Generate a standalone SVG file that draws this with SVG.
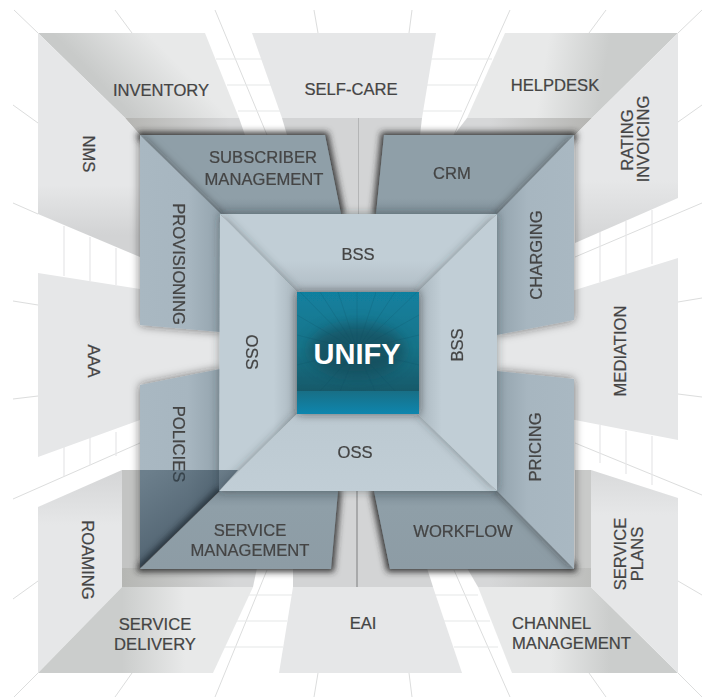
<svg xmlns="http://www.w3.org/2000/svg" width="708" height="697" viewBox="0 0 708 697">
<style>
text{font-family:"Liberation Sans",Arial,sans-serif;font-size:16.6px;fill:#444;text-anchor:middle;stroke:#444;stroke-width:.22}
.wall{fill:#e6e7e8}
.band{fill:#d3d4d5}
.grid{stroke:#dcdddd;stroke-width:1;fill:none}
.inner{stroke:#e6e7e8;stroke-width:1.2;fill:none}
.side{fill:url(#side)}
.back{fill:url(#back)}
.ray{stroke:#0b4a5e;stroke-width:.6;opacity:.3}
.sh{filter:url(#shadow)}
.ss{filter:url(#shadowS)}
.sc{filter:url(#shadowC)}
</style>
<defs>
<filter id="shadow" x="-20%" y="-20%" width="140%" height="140%"><feMorphology in="SourceAlpha" operator="dilate" radius="2.500" result="d"/><feGaussianBlur in="d" stdDeviation="3" result="b"/><feFlood flood-color="#2a2a2a" flood-opacity=".9"/><feComposite in2="b" operator="in"/><feMerge><feMergeNode/><feMergeNode in="SourceGraphic"/></feMerge></filter>
<filter id="shadowS" x="-20%" y="-20%" width="140%" height="140%"><feDropShadow dx="0" dy="0" stdDeviation="5" flood-color="#1c1c1c" flood-opacity=".6"/></filter>
<filter id="shadowC" x="-20%" y="-20%" width="140%" height="140%"><feDropShadow dx="0" dy="0" stdDeviation="5" flood-color="#2c3135" flood-opacity=".45"/></filter>
<filter id="soft" x="-30%" y="-30%" width="160%" height="160%"><feGaussianBlur stdDeviation="7"/></filter>
<clipPath id="boxclip"><rect x="297" y="292" width="122" height="122"/></clipPath>
<linearGradient id="side" x1="0" y1="0" x2="1" y2="0"><stop offset="0" stop-color="#a9b8c2"/><stop offset=".6" stop-color="#a7b6c0"/><stop offset="1" stop-color="#93a3ad"/></linearGradient>
<linearGradient id="sideR" x1="1" y1="0" x2="0" y2="0"><stop offset="0" stop-color="#a9b8c2"/><stop offset=".6" stop-color="#a7b6c0"/><stop offset="1" stop-color="#93a3ad"/></linearGradient>
<linearGradient id="back" x1="0" y1="0" x2="0" y2="1"><stop offset="0" stop-color="#8f9fa8"/><stop offset=".8" stop-color="#8f9fa8"/><stop offset="1" stop-color="#7e8e98"/></linearGradient>
<linearGradient id="backS" x1="0" y1="1" x2="0" y2="0"><stop offset="0" stop-color="#8d9ca5"/><stop offset=".8" stop-color="#8f9fa8"/><stop offset="1" stop-color="#7e8e98"/></linearGradient>
<linearGradient id="wInv" gradientUnits="userSpaceOnUse" x1="105" y1="88" x2="155" y2="40"><stop offset="0" stop-color="#c8cac9"/><stop offset="1" stop-color="#e8e9e9"/></linearGradient>
<linearGradient id="wHelp" gradientUnits="userSpaceOnUse" x1="605" y1="70" x2="545" y2="60"><stop offset="0" stop-color="#cbcdcc"/><stop offset="1" stop-color="#e8e9e9"/></linearGradient>
<linearGradient id="wDel" gradientUnits="userSpaceOnUse" x1="122" y1="630" x2="185" y2="630"><stop offset="0" stop-color="#cbcdcc"/><stop offset="1" stop-color="#e8e9e9"/></linearGradient>
<linearGradient id="wChan" gradientUnits="userSpaceOnUse" x1="610" y1="630" x2="550" y2="630"><stop offset="0" stop-color="#cbcdcc"/><stop offset="1" stop-color="#e8e9e9"/></linearGradient>
<linearGradient id="wNms" gradientUnits="userSpaceOnUse" x1="0" y1="185" x2="0" y2="235"><stop offset="0" stop-color="#e6e7e8"/><stop offset="1" stop-color="#d2d3d4"/></linearGradient>
<linearGradient id="wRat" gradientUnits="userSpaceOnUse" x1="0" y1="180" x2="0" y2="240"><stop offset="0" stop-color="#e6e7e8"/><stop offset="1" stop-color="#d4d5d6"/></linearGradient>
<linearGradient id="wRoam" gradientUnits="userSpaceOnUse" x1="0" y1="470" x2="0" y2="525"><stop offset="0" stop-color="#d4d5d6"/><stop offset="1" stop-color="#e6e7e8"/></linearGradient>
<linearGradient id="wPlan" gradientUnits="userSpaceOnUse" x1="0" y1="455" x2="0" y2="515"><stop offset="0" stop-color="#d4d5d6"/><stop offset="1" stop-color="#e6e7e8"/></linearGradient>
<linearGradient id="bandL" gradientUnits="userSpaceOnUse" x1="125" y1="0" x2="230" y2="0"><stop offset="0" stop-color="#b5b5b2"/><stop offset="1" stop-color="#d6d7d8"/></linearGradient>
<linearGradient id="bandR" gradientUnits="userSpaceOnUse" x1="592" y1="0" x2="490" y2="0"><stop offset="0" stop-color="#b5b5b2"/><stop offset="1" stop-color="#d6d7d8"/></linearGradient>
<linearGradient id="bandBL" gradientUnits="userSpaceOnUse" x1="122" y1="0" x2="235" y2="0"><stop offset="0" stop-color="#b5b6b3"/><stop offset="1" stop-color="#d6d7d8"/></linearGradient>
<linearGradient id="bandBR" gradientUnits="userSpaceOnUse" x1="591" y1="0" x2="490" y2="0"><stop offset="0" stop-color="#bdbebc"/><stop offset="1" stop-color="#d6d7d8"/></linearGradient>
<linearGradient id="cT" x1="0" y1="0" x2="0" y2="1"><stop offset="0" stop-color="#c1ced6"/><stop offset=".6" stop-color="#c1ced6"/><stop offset="1" stop-color="#b0bcc4"/></linearGradient>
<linearGradient id="cB" x1="0" y1="1" x2="0" y2="0"><stop offset="0" stop-color="#c1ced6"/><stop offset="1" stop-color="#bcc9d1"/></linearGradient>
<linearGradient id="cL" x1="0" y1="0" x2="1" y2="0"><stop offset="0" stop-color="#c1ced6"/><stop offset=".7" stop-color="#c1ced6"/><stop offset="1" stop-color="#a9b6be"/></linearGradient>
<linearGradient id="cR" x1="1" y1="0" x2="0" y2="0"><stop offset="0" stop-color="#c1ced6"/><stop offset=".7" stop-color="#c1ced6"/><stop offset="1" stop-color="#a9b6be"/></linearGradient>
<linearGradient id="uni" x1="0" y1="0" x2="0" y2="1"><stop offset="0" stop-color="#11809f"/><stop offset=".45" stop-color="#177489"/><stop offset="1" stop-color="#1a4b59"/></linearGradient>
<linearGradient id="uniF" x1="0" y1="0" x2="0" y2="1"><stop offset="0" stop-color="#186f86"/><stop offset="1" stop-color="#0e86ae"/></linearGradient>
<linearGradient id="ovl" gradientUnits="userSpaceOnUse" x1="150" y1="470" x2="190" y2="530"><stop offset="0" stop-color="#2f4656" stop-opacity=".5"/><stop offset="1" stop-color="#203444" stop-opacity=".62"/></linearGradient>
</defs>

<g id="grid-lines">
<path class="grid" d="M14 10L38 33M115 10L132 33M215 10L267 135M314 10L318 33M412 10L409 33M510 10L454 135M606 10L589 33M702 10L678 33"/>
<path class="grid" d="M13 105L38 123M13 203L38 214M13 301L38 305M13 399L38 396M13 499L140 443M13 599L38 581"/>
<path class="grid" d="M14 697L38 673M115 697L132 673M215 697L267 570M314 697L318 673M412 697L409 673M510 697L454 570M606 697L589 673M702 697L678 673"/>
<path class="grid" d="M702 105L678 122M702 203L575 257M702 298L678 302M702 397L678 394M702 495L575 443M702 595L678 581"/>
<path class="inner" d="M216 59H265M227 85H276M238 111H285M430 59H492M424 85H478M420 111H462"/>
<path class="inner" d="M247 595H292M236 621H287M224 647H283M433 595H478M444 621H490M454 647H498"/>
<path class="inner" d="M64 226V276M90 237V281M116 248V285M64 418V476M90 408V465M116 432V456"/>
<path class="inner" d="M600 232V282M626 221V274M652 210V264M600 425V463M626 431V474M652 436V485"/>
</g>

<g id="back-bands">
<polygon points="125,118 239,118 245,135 140,135" fill="url(#bandL)"/>
<polygon points="282,118 422,118 420,135 287,135" class="band"/>
<polygon points="467,118 592,118 575,135 454,135" fill="url(#bandR)"/>
<polygon points="287,135 420,135 420,215 287,215" class="band"/>
<path d="M358.500 118V215" stroke="#b4b5b6" fill="none"/>
<polygon points="122,470 140,470 140,587 122,587" fill="#c3c4c3"/>
<polygon points="575,470 591,470 591,587 575,587" fill="#c9cac9"/>
<polygon points="122,568 257,568 253,587 122,587" fill="url(#bandBL)"/>
<polygon points="293,568 427,568 433,587 293,587" class="band"/>
<polygon points="467,568 591,568 591,587 478,587" fill="url(#bandBR)"/>
<polygon points="293,490 426,490 426,568 293,568" class="band"/>
<path d="M357 490V587" stroke="#a8a9aa" stroke-width="2" fill="none"/>
</g>

<g id="inventory"><polygon points="38,33 205,33 239,118 125,118" fill="url(#wInv)"/><text x="161" y="96">INVENTORY</text></g>
<g id="self-care"><polygon class="wall" points="252,33 436,33 422,118 282,118"/><text x="351" y="95">SELF-CARE</text></g>
<g id="helpdesk"><polygon points="505,33 678,33 592,118 467,118" fill="url(#wHelp)"/><text x="555" y="91">HELPDESK</text></g>
<g id="nms"><polygon fill="url(#wNms)" points="38,33 125,118 140,135 140,257 38,214"/><text transform="translate(89 154) rotate(90)" y="5.700">NMS</text></g>
<g id="aaa"><polygon class="wall" points="38,273 140,289 220,302 220,391 140,420 38,457"/><text transform="translate(94 361) rotate(90)" y="5.700">AAA</text></g>
<g id="roaming"><polygon fill="url(#wRoam)" points="38,507 122,470 122,587 38,673"/><text transform="translate(88 560) rotate(90)" y="5.700">ROAMING</text></g>
<g id="service-delivery"><polygon points="38,673 122,587 253,587 213,673" fill="url(#wDel)"/><text x="155" y="630">SERVICE</text><text x="155" y="649.500">DELIVERY</text></g>
<g id="eai"><polygon class="wall" points="279,673 293,587 433,587 462,673"/><text x="363" y="629">EAI</text></g>
<g id="channel-management"><polygon points="512,673 478,587 591,587 678,673" fill="url(#wChan)"/><text x="512" y="629" style="text-anchor:start">CHANNEL</text><text x="512" y="649" style="text-anchor:start">MANAGEMENT</text></g>
<g id="rating-invoicing"><polygon fill="url(#wRat)" points="678,33 592,118 575,135 575,243 678,198"/><text transform="translate(627 140) rotate(-90)" y="5.700">RATING</text><text transform="translate(643 139) rotate(-90)" y="5.700">INVOICING</text></g>
<g id="mediation"><polygon class="wall" points="678,258 575,290 497,314 497,405 575,420 678,440"/><text transform="translate(620 351) rotate(-90)" y="5.700">MEDIATION</text></g>
<g id="service-plans"><polygon fill="url(#wPlan)" points="678,498 591,470 591,587 678,673"/><text transform="translate(620 554) rotate(-90)" y="5.700">SERVICE</text><text transform="translate(637 554) rotate(-90)" y="5.700">PLANS</text></g>

<g id="subscriber-management" class="sh"><polygon class="back" points="140,135 325,135 341,214 221,214"/><text x="263" y="163">SUBSCRIBER</text><text x="264" y="185">MANAGEMENT</text></g>
<g id="crm" class="sh"><polygon class="back" points="384,135 574,135 497,214 376,214"/><text x="452" y="179">CRM</text></g>
<g id="workflow" class="sh"><polygon fill="url(#backS)" points="374,491 497,491 574,569 390,569"/><text x="463" y="537">WORKFLOW</text></g>
<g id="policies" class="ss"><polygon class="side" points="140,385 220,369 220,491 140,568"/><text transform="translate(179 444) rotate(90)" y="5.700">POLICIES</text></g>
<g id="service-management" class="sh"><polygon fill="url(#backS)" points="220,491 338,491 331,569 140,569"/><text x="250" y="536">SERVICE</text><text x="250" y="556">MANAGEMENT</text></g>
<g id="provisioning" class="ss"><polygon class="side" points="140,135 221,214 220,332 140,325"/><text transform="translate(179 264) rotate(90)" y="5.700">PROVISIONING</text></g>
<g id="charging" class="ss"><polygon fill="url(#sideR)" points="574,135 574,320 497,335 497,214"/><text transform="translate(536 255) rotate(-90)" y="5.700">CHARGING</text></g>
<g id="pricing" class="ss"><polygon fill="url(#sideR)" points="497,371 574,379 574,569 497,491"/><text transform="translate(535 447) rotate(-90)" y="5.700">PRICING</text></g>

<g id="bss-top" class="sc"><polygon fill="url(#cT)" points="220,214 497,214 418,292 297,292"/><text x="358" y="260">BSS</text></g>
<g id="oss-left" class="sc"><polygon fill="url(#cL)" points="220,214 297,292 297,414 219,491"/><text transform="translate(252 352) rotate(90)" y="5.700">OSS</text></g>
<g id="oss-bottom" class="sc"><polygon fill="url(#cB)" points="219,491 297,414 418,414 497,491"/><text x="355" y="458">OSS</text></g>
<g id="bss-right" class="sc"><polygon fill="url(#cR)" points="497,214 497,491 418,414 418,292"/><text transform="translate(457 345) rotate(-90)" y="5.700">BSS</text></g>

<polygon id="policies-overlay" points="140,470 238,470 219,491 140,568" fill="url(#ovl)"/>

<g id="unify">
<g class="ss"><rect x="297" y="292" width="122" height="122" fill="url(#uni)"/></g>
<g clip-path="url(#boxclip)">
<ellipse cx="357" cy="350" rx="48" ry="26" fill="#123c4a" opacity=".55" filter="url(#soft)"/>
<path class="ray" d="M357 350L300 292M357 350L320 292M357 350L338 292M357 350L357 292M357 350L376 292M357 350L395 292M357 350L417 292M357 350L297 315M357 350L297 335M357 350L419 315M357 350L419 335M357 350L297 365M357 350L419 365M357 350L320 391M357 350L340 391M357 350L375 391M357 350L395 391"/>
<rect x="297" y="391" width="122" height="23" fill="url(#uniF)"/>
</g>
<text x="357" y="364" style="font-size:29px;font-weight:700;fill:#fff;stroke:none">UNIFY</text>
</g>
</svg>
